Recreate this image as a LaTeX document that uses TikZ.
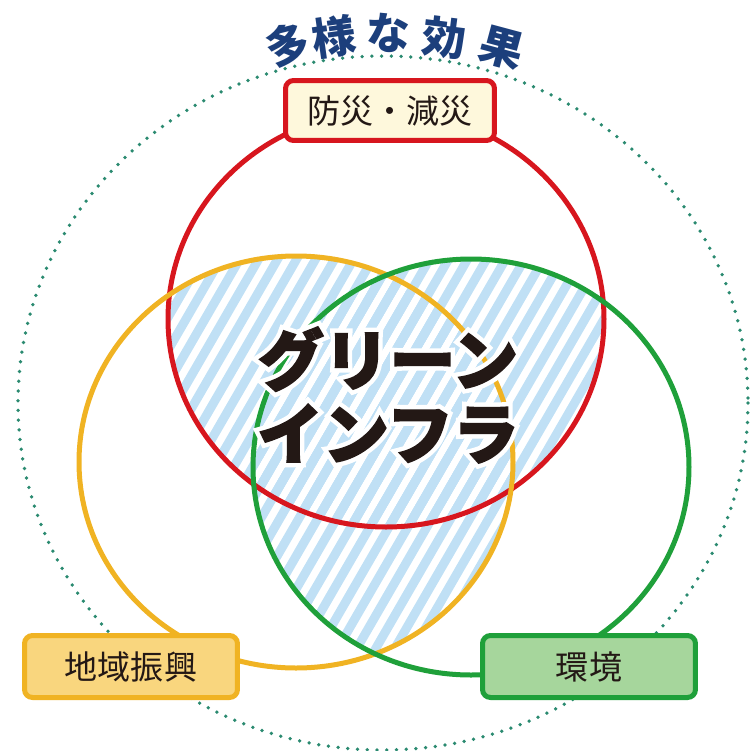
\documentclass[tikz,border=0pt]{standalone}
\usepackage{fontspec}
\newfontfamily\jpfont{Noto Sans CJK JP}
\newfontfamily\jpheavy[BoldFeatures={FakeBold=2.5}]{Noto Sans CJK JP}
\newfontfamily\jphalo[BoldFeatures={FakeBold=16}]{Noto Sans CJK JP}
\usepackage{tikz}
\usetikzlibrary{calc}

\definecolor{ringred}{HTML}{D7161E}
\definecolor{ringyellow}{HTML}{F0B323}
\definecolor{ringgreen}{HTML}{1FA03A}
\definecolor{hatchblue}{HTML}{C0E0F5}
\definecolor{dotgreen}{HTML}{2A8A70}
\definecolor{titleblue}{HTML}{1C3F7C}
\definecolor{fillcream}{HTML}{FEF8DC}
\definecolor{fillorange}{HTML}{F9D67E}
\definecolor{fillgreen}{HTML}{A6D69C}
\definecolor{inktext}{HTML}{231815}

\def\redring{(386,319) ellipse [x radius=218, y radius=208]}
\def\yellowring{(296,462) ellipse [x radius=217, y radius=206]}
\def\greenring{(471,467) ellipse [x radius=218, y radius=208]}

\newcommand\hatchpair[2]{%
  \begin{scope}
    \clip #1;
    \clip #2;
    \foreach \a in {-300,-281,...,800}
      \draw[stripe] (\a,700) -- ++(350,-606);
  \end{scope}}

\begin{document}
\begin{tikzpicture}[x=0.02cm, y=-0.02cm]
\tikzstyle{ring}=[line width=0.1cm]
\tikzstyle{stripe}=[line width=0.18cm, hatchblue]
\tikzstyle{labelbox}=[draw, line width=0.1cm, rounded corners=0.16cm, minimum width=4.26cm, minimum height=1.24cm, text=inktext, font=\jpfont\fontsize{18.8}{22}\selectfont]
\tikzstyle{titlechar}=[inner sep=0pt, text=titleblue, font=\jpfont\bfseries\fontsize{25}{25}\selectfont]
\tikzstyle{bigtext}=[align=center]

\useasboundingbox (0,0) rectangle (751,751);

% overlaps
\hatchpair{\redring}{\yellowring}
\hatchpair{\redring}{\greenring}
\hatchpair{\yellowring}{\greenring}

\draw[dotgreen, line width=0.075cm, line cap=round, dash pattern=on 0pt off 0.195cm] (383,403) ellipse [x radius=365, y radius=347];

\draw[ring, ringred] \redring;
\draw[ring, ringyellow] \yellowring;
\draw[ring, ringgreen] \greenring;

% white halo under the title
\node (gh) at (388,395) [bigtext, text=white, font=\jphalo\bfseries\fontsize{37.5}{42}\selectfont] {グリーン\\インフラ};
\node (gi) at (gh.center) [bigtext, text=inktext, font=\jpheavy\bfseries\fontsize{37.5}{42}\selectfont] {グリーン\\インフラ};

\node (b0) at (390,110.5) [labelbox, draw=ringred, fill=fillcream, minimum width=4.18cm, minimum height=1.2cm] {防災・減災};
\node (b1) at (131,666.5) [labelbox, draw=ringyellow, fill=fillorange] {地域振興};
\node (b2) at (589,666.5) [labelbox, draw=ringgreen, fill=fillgreen] {環境};

\foreach \c/\x/\y/\r [count=\i] in {多/288/45/14, 様/334/37/8, な/388/33/0, 効/444/38/-7, 果/502/48/-15}
  \node (t\i) at (\x,\y) [titlechar, rotate=\r] {\c};
\end{tikzpicture}
\end{document}
